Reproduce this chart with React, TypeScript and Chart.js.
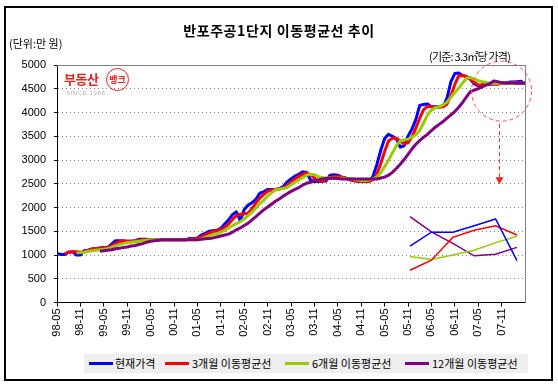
import React, { useEffect, useRef } from 'react';
import { Chart, registerables } from 'chart.js';
Chart.register(...registerables);

const FONT = "'Liberation Sans', Arial, sans-serif";
const KFONT = "'Noto Sans CJK KR', 'Noto Sans', sans-serif";

const tickLabels = ['98-05','98-11','99-05','99-11','00-05','00-11','01-05','01-11','02-05','02-11','03-05','03-11','04-05','04-11','05-05','05-11','06-05','06-11','07-05','07-11'];
const yTicks = [0, 500, 1000, 1500, 2000, 2500, 3000, 3500, 4000, 4500, 5000];

const seriesNames = ['현재가격', '3개월 이동평균선', '6개월 이동평균선', '12개월 이동평균선'];
const seriesColors = ['#0000FF', '#FF0000', '#99CC00', '#800080'];

const currentPrice = [
  1030, 1010, 1010, 1060, 1070, 1000, 1000, 1090, 1100, 1130,
  1130, 1150, 1160, 1160, 1230, 1300, 1300, 1300, 1290, 1290,
  1300, 1330, 1330, 1330, 1320, 1320, 1320, 1320, 1320, 1320,
  1320, 1320, 1320, 1320, 1350, 1350, 1360, 1420, 1455, 1500,
  1510, 1520, 1560, 1650, 1740, 1850, 1910, 1720, 1960, 2050,
  2100, 2170, 2300, 2330, 2380, 2380, 2380, 2400, 2440, 2540,
  2600, 2660, 2700, 2750, 2740, 2580, 2550, 2550, 2550, 2560,
  2680, 2690, 2680, 2640, 2620, 2590, 2570, 2550, 2550, 2550,
  2550, 2650, 2900, 3200, 3450, 3540, 3500, 3450, 3270, 3300,
  3500, 3650, 3850, 4150, 4170, 4180, 4120, 4120, 4120, 4130,
  4300, 4650, 4820, 4830, 4780, 4750, 4700, 4600, 4560, 4580,
  4610, 4600, 4600, 4600, 4620, 4620, 4640, 4640, 4650, 4660,
  4600,
];
const ma3 = [
  null, null, 1030, 1060, 1070, 1070, 1060, 1070, 1100, 1120,
  1130, 1140, 1150, 1160, 1190, 1240, 1280, 1290, 1290, 1290,
  1295, 1310, 1320, 1320, 1320, 1320, 1320, 1320, 1320, 1320,
  1320, 1320, 1320, 1320, 1330, 1345, 1350, 1380, 1420, 1460,
  1490, 1510, 1530, 1580, 1650, 1750, 1830, 1860, 1870, 1880,
  1980, 2090, 2200, 2270, 2340, 2370, 2380, 2390, 2410, 2460,
  2530, 2600, 2650, 2700, 2730, 2690, 2620, 2560, 2550, 2590,
  2630, 2650, 2650, 2640, 2620, 2590, 2570, 2560, 2550, 2550,
  2550, 2580, 2700, 2920, 3180, 3400, 3460, 3460, 3400, 3340,
  3360, 3480, 3670, 3880, 4060, 4130, 4120, 4110, 4110, 4120,
  4180, 4360, 4590, 4770, 4780, 4760, 4700, 4640, 4580, 4580,
  4590, 4600, 4600, 4600, 4610, 4610, 4620, 4620, 4620, 4620,
  4620,
];
const ma6 = [
  null, null, null, null, null, 1040, 1050, 1060, 1080, 1090,
  1100, 1110, 1120, 1130, 1160, 1190, 1220, 1240, 1260, 1270,
  1280, 1290, 1300, 1310, 1320, 1320, 1320, 1320, 1320, 1320,
  1320, 1320, 1320, 1320, 1320, 1320, 1320, 1340, 1370, 1400,
  1430, 1450, 1480, 1520, 1570, 1620, 1660, 1700, 1760, 1830,
  1900, 1990, 2080, 2150, 2240, 2310, 2370, 2390, 2400, 2420,
  2480, 2530, 2580, 2630, 2680, 2700, 2690, 2650, 2630, 2620,
  2620, 2615, 2615, 2615, 2610, 2610, 2600, 2580, 2570, 2570,
  2580, 2600, 2640, 2730, 2860, 3000, 3150, 3300, 3400, 3420,
  3440, 3480, 3530, 3620, 3780, 3950, 4050, 4100, 4120, 4160,
  4220, 4320, 4420, 4510, 4620, 4720, 4740, 4700, 4670, 4650,
  4630, 4615, 4615, 4615, 4615, 4615, 4615, 4615, 4615, 4615,
  4615,
];
const ma12 = [
  null, null, null, null, null, null, null, null, null, null,
  null, 1080, 1090, 1100, 1110, 1130, 1140, 1160, 1170, 1190,
  1200, 1220, 1240, 1270, 1290, 1300, 1310, 1320, 1320, 1320,
  1320, 1320, 1320, 1320, 1320, 1320, 1320, 1330, 1340, 1345,
  1360, 1380, 1400, 1420, 1440, 1480, 1530, 1570, 1620, 1670,
  1740, 1810, 1880, 1950, 2010, 2070, 2130, 2180, 2240, 2290,
  2340, 2380, 2420, 2470, 2510, 2530, 2560, 2580, 2600, 2610,
  2615, 2615, 2610, 2600, 2600, 2600, 2600, 2600, 2600, 2600,
  2600, 2600, 2600, 2620, 2640, 2680, 2740, 2820, 2910, 3010,
  3120, 3230, 3330, 3410, 3480, 3540, 3620, 3690, 3750, 3810,
  3880, 3950, 4020, 4110, 4210, 4330, 4440, 4470, 4500, 4540,
  4575, 4610, 4665, 4650, 4625, 4620, 4620, 4620, 4615, 4615,
  4615,
];

const insetLabels = ['1', '2', '3', '4', '5', '6'];
const insetCurrent = [4622, 4657, 4657, 4673, 4690, 4586];
const insetMa3 = [4562, 4587, 4644, 4662, 4673, 4650];
const insetMa6 = [4596, 4589, 4600, 4612, 4631, 4647];
const insetMa12 = [4696, 4658, 4629, 4598, 4602, 4619];

const mainSeries = [currentPrice, ma3, ma6, ma12];
const insetSeries = [insetCurrent, insetMa3, insetMa6, insetMa12];

export default function App() {
  const mainRef = useRef<HTMLCanvasElement>(null);
  const insetRef = useRef<HTMLCanvasElement>(null);

  useEffect(() => {
    const decoPlugin = {
      id: 'deco',
      beforeDatasetsDraw(chart: any) {
        const { ctx, chartArea: a } = chart;
        ctx.save();
        ctx.strokeStyle = '#808080';
        ctx.lineWidth = 1;
        ctx.setLineDash([]);
        ctx.beginPath();
        ctx.moveTo(Math.round(a.left), Math.round(a.top) + 0.5);
        ctx.lineTo(Math.round(a.right) + 0.5, Math.round(a.top) + 0.5);
        ctx.lineTo(Math.round(a.right) + 0.5, Math.round(a.bottom));
        ctx.stroke();
        ctx.restore();
      },
      afterDraw(chart: any) {
        const { ctx } = chart;
        const x = chart.scales.x;
        const y = chart.scales.y;
        const cx = x.getPixelForValue(114);
        const cy = y.getPixelForValue(4450);
        ctx.save();
        ctx.strokeStyle = '#FF5050';
        ctx.lineWidth = 1;
        ctx.setLineDash([4, 3]);
        ctx.beginPath();
        ctx.arc(cx, cy, 30, 0, Math.PI * 2);
        ctx.stroke();
        const ax = Math.round(cx - 3) + 0.5;
        ctx.strokeStyle = '#FF3030';
        ctx.beginPath();
        ctx.moveTo(ax, cy + 33);
        ctx.lineTo(ax, cy + 86);
        ctx.stroke();
        ctx.setLineDash([]);
        ctx.fillStyle = '#FF2020';
        ctx.beginPath();
        ctx.moveTo(ax - 4, cy + 86);
        ctx.lineTo(ax + 4, cy + 86);
        ctx.lineTo(ax, cy + 93);
        ctx.closePath();
        ctx.fill();
        ctx.restore();
      },
    };

    const main = new Chart(mainRef.current!, {
      type: 'line',
      data: {
        datasets: mainSeries.map((s, k) => ({
          label: seriesNames[k],
          data: s.map((v, i) => ({ x: i, y: v })),
          borderColor: seriesColors[k],
          backgroundColor: seriesColors[k],
          borderWidth: 3,
          pointRadius: 0,
          tension: 0,
          fill: false,
          order: 4 - k,
        })),
      },
      options: {
        responsive: false,
        animation: false,
        devicePixelRatio: 1,
        events: [],
        layout: { padding: { left: 0, right: 33, top: 65, bottom: 48.5 } },
        plugins: { legend: { display: false }, tooltip: { enabled: false }, title: { display: false } },
        elements: { line: { borderJoinStyle: 'round', borderCapStyle: 'butt' } },
        scales: {
          x: {
            type: 'linear',
            min: 0,
            max: 120,
            afterBuildTicks: (s: any) => { s.ticks = tickLabels.map((_, i) => ({ value: i * 6 })); },
            afterFit: (s: any) => { s.height = 40; },
            ticks: {
              autoSkip: false,
              minRotation: 90,
              maxRotation: 90,
              padding: 2,
              color: '#000',
              font: { family: FONT, size: 11 },
              callback: (v: any) => tickLabels[Math.round(Number(v) / 6)] ?? '',
            },
            grid: { drawOnChartArea: false, drawTicks: true, tickLength: 4, tickColor: '#000', color: '#000' },
            border: { display: true, color: '#000', width: 1 },
          },
          y: {
            type: 'linear',
            min: 0,
            max: 5000,
            afterBuildTicks: (s: any) => { s.ticks = yTicks.map((v) => ({ value: v })); },
            afterFit: (s: any) => { s.width = 57; },
            ticks: {
              padding: 8,
              color: '#000',
              font: { family: FONT, size: 11 },
              callback: (v: any) => String(v),
            },
            grid: { color: '#808080', drawTicks: true, tickLength: 3, tickColor: '#000', tickBorderDash: [] },
            border: { display: true, color: '#000', width: 1, dash: [1, 3] },
          },
        },
      } as any,
      plugins: [decoPlugin],
    });

    const inset = new Chart(insetRef.current!, {
      type: 'line',
      data: {
        labels: insetLabels,
        datasets: insetSeries.map((s, k) => ({
          label: seriesNames[k],
          data: s,
          borderColor: seriesColors[k],
          borderWidth: 1.5,
          pointRadius: 0,
          tension: 0,
          fill: false,
          clip: false,
        })),
      },
      options: {
        responsive: false,
        animation: false,
        devicePixelRatio: 1,
        events: [],
        layout: { padding: { left: 10, right: 10, top: 10, bottom: 10 } },
        plugins: { legend: { display: false }, tooltip: { enabled: false } },
        scales: {
          x: { display: false, offset: false },
          y: { display: false, min: 4550, max: 4700 },
        },
      } as any,
    });

    return () => {
      main.destroy();
      inset.destroy();
    };
  }, []);

  const abs = (o: React.CSSProperties): React.CSSProperties => ({ position: 'absolute', whiteSpace: 'nowrap', ...o });

  const legendItems = [
    { left: 89, textLeft: 115 },
    { left: 165, textLeft: 192 },
    { left: 285, textLeft: 312 },
    { left: 405, textLeft: 432 },
  ];

  return (
    <div style={{ position: 'relative', width: 558, height: 391, background: '#fff', overflow: 'hidden' }}>
      <style>{'body{margin:0;}'}</style>
      <div style={abs({ left: 4, top: 6, width: 549, height: 375, border: '2px solid #000', boxSizing: 'border-box' })} />
      <canvas ref={mainRef} width={558} height={391} style={abs({ left: 0, top: 0, width: 558, height: 391 })} />
      <canvas ref={insetRef} width={127} height={80} style={abs({ left: 400, top: 205, width: 127, height: 80 })} />

      <div style={abs({ left: 0, top: 21, width: 558, textAlign: 'center', fontFamily: KFONT, fontWeight: 700, fontSize: 14, lineHeight: '18px', color: '#000', letterSpacing: '0.6px' })}>
        반포주공1단지 이동평균선 추이
      </div>
      <div style={abs({ left: 9, top: 35, fontFamily: KFONT, fontSize: 11, lineHeight: '16px', color: '#000' })}>(단위:만 원)</div>
      <div style={abs({ left: 429, top: 48, fontFamily: KFONT, fontSize: 11, lineHeight: '16px', color: '#000', letterSpacing: '-0.8px' })}>(기준: 3.3㎡당 가격)</div>

      <div style={abs({ left: 64, top: 70, fontFamily: KFONT, fontWeight: 700, fontSize: 13, lineHeight: '18px', color: '#E52420', letterSpacing: '-0.5px' })}>부동산</div>
      <div style={abs({ left: 106, top: 68, width: 23, height: 23, borderRadius: '50%', border: '1.5px solid #E52420', boxSizing: 'border-box', display: 'flex', alignItems: 'center', justifyContent: 'center', fontFamily: KFONT, fontWeight: 700, fontSize: 9, color: '#E52420', lineHeight: '10px' })}>뱅크</div>
      <div style={abs({ left: 66, top: 89, fontFamily: FONT, fontSize: 6, lineHeight: '8px', color: '#B0B0B0', letterSpacing: '0.6px' })}>SINCE 1988</div>

      <div style={abs({ left: 84, top: 354, width: 444, height: 19, background: '#EFEFEF' })} />
      {legendItems.map((it, k) => (
        <React.Fragment key={k}>
          <div style={abs({ left: it.left, top: 362, width: 24, height: 3, background: seriesColors[k] })} />
          <div style={abs({ left: it.textLeft, top: 355, fontFamily: KFONT, fontSize: 11, lineHeight: '16px', color: '#000' })}>{seriesNames[k]}</div>
        </React.Fragment>
      ))}
    </div>
  );
}
